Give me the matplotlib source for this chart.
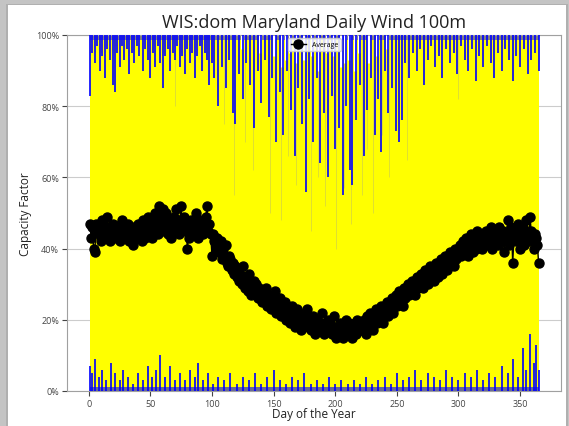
import numpy as np
import matplotlib
matplotlib.use("Agg")
import matplotlib.pyplot as plt
from matplotlib.patches import Rectangle
from matplotlib.ticker import PercentFormatter

plt.rcParams['font.family'] = ['Open Sans', 'DejaVu Sans']

# daily average capacity factor (%), day 1..365
avg_cf = [
    47, 43, 46, 40, 39, 47, 45, 44, 46, 42, 48, 45, 44, 43, 49, 46, 42, 45, 44, 47,
    45, 43, 46, 44, 42, 47, 48, 45, 44, 43, 46, 47, 42, 45, 44, 41, 46, 43, 45, 47,
    44, 46, 42, 48, 45, 43, 47, 49, 44, 46, 43, 45, 48, 50, 47, 44, 52, 46, 49, 51,
    45, 47, 50, 44, 46, 48, 43, 47, 49, 45, 51, 47, 44, 48, 52, 46, 49, 45, 47, 40,
    43, 46, 48, 45, 44, 47, 50, 46, 43, 48, 45, 47, 44, 46, 49, 52, 45, 47, 44, 38,
    44, 42, 40, 43, 41, 39, 42, 37, 40, 38, 41, 36, 35, 38, 37, 34, 36, 33, 35, 32,
    34, 31, 33, 30, 35, 32, 29, 31, 28, 33, 30, 27, 29, 31, 28, 30, 26, 29, 27, 28,
    25, 28, 26, 29, 24, 27, 25, 23, 26, 24, 28, 22, 25, 23, 26, 21, 24, 22, 25, 20,
    23, 21, 19, 22, 24, 20, 18, 21, 23, 19, 22, 17, 20, 18, 21, 19, 23, 18, 20, 17,
    19, 21, 18, 16, 20, 17, 19, 18, 22, 17, 16, 19, 18, 20, 17, 19, 16, 18, 21, 17,
    15, 18, 16, 19, 17, 15, 18, 16, 20, 17, 19, 16, 18, 15, 17, 19, 16, 20, 18, 17,
    19, 17, 20, 18, 16, 21, 19, 22, 18, 20, 17, 21, 23, 19, 22, 20, 24, 21, 19, 23,
    22, 25, 21, 24, 23, 26, 22, 25, 27, 24, 26, 28, 25, 27, 24, 29, 26, 28, 30, 27,
    29, 31, 28, 30, 27, 32, 29, 31, 30, 33, 29, 32, 34, 31, 30, 33, 35, 32, 34, 31,
    33, 36, 32, 35, 34, 37, 33, 36, 38, 35, 34, 37, 39, 36, 38, 35, 40, 37, 39, 38,
    41, 38, 40, 42, 39, 43, 40, 38, 42, 44, 41, 39, 43, 40, 45, 42, 41, 44, 40, 43,
    42, 45, 41, 44, 43, 46, 40, 43, 45, 42, 44, 41, 46, 43, 42, 45, 39, 44, 43, 48,
    41, 44, 46, 36, 43, 45, 42, 47, 44, 40, 43, 46, 41, 45, 48, 44, 42, 49, 45, 43,
    40, 44, 43, 41, 36,
]
days = np.arange(1, len(avg_cf) + 1)

# range of all years: min and max daily capacity factor (%)
cf_floor = 0
cf_ceiling = 100
# thin band where only the windiest / calmest years sit (%)
top_fringe = 98.5
bottom_fringe = 1.2

# days where the highest years stay below 100% (blue spikes from the top)
top_spike_day = [1, 3, 5, 7, 9, 11, 13, 15, 17, 20, 21, 23, 25, 27, 29, 31, 33, 35, 37, 39,
                 41, 44, 46, 48, 50, 52, 54, 56, 58, 60, 62, 64, 66, 68, 70, 72, 74, 76, 78, 80,
                 82, 84, 86, 88, 90, 92, 94, 96, 98, 100,
                 102, 105, 108, 111, 114, 117, 119, 122, 125, 128, 131, 134, 137, 140, 143, 146,
                 149, 152, 155, 158, 161, 164, 167, 170, 173, 176, 179, 182, 185, 188, 191, 194,
                 197, 200, 203, 206, 209, 212, 214, 217, 220, 223, 226, 229, 232, 235, 237, 240,
                 243, 246, 249, 252, 254,
                 257, 260, 263, 266, 269, 272, 275, 278, 281, 284, 287, 290, 293, 296, 299, 302,
                 305, 308, 311, 314, 317, 320, 323, 326, 329, 332, 335, 338, 341, 344, 347, 350,
                 353, 356, 359, 362, 365]
top_spike_cf = [83, 95, 92, 97, 90, 94, 88, 96, 93, 86, 84, 95, 91, 97, 93, 96, 89, 95, 92, 97,
                94, 90, 96, 93, 88, 95, 91, 97, 92, 85, 94, 96, 90, 95, 93, 97, 91, 94, 89, 96,
                92, 95, 88, 94, 97, 90, 95, 93, 86, 92,
                88, 80, 91, 85, 93, 78, 75, 89, 82, 92, 86, 74, 90, 81, 93, 77,
                88, 70, 84, 72, 90, 79, 66, 85, 75, 56, 82, 70, 88, 64, 78, 60,
                83, 68, 74, 55, 80, 62, 58, 76, 86, 66, 79, 88, 72, 82, 67, 90,
                78, 85, 73, 70, 76,
                92, 88, 95, 90, 96, 86, 93, 97, 91, 94, 88, 96, 92, 95, 89, 97,
                93, 90, 96, 87, 94, 91, 97, 92, 88, 95, 90, 96, 93, 87, 94, 91,
                96, 89, 93, 95, 90]

# summer days where no year reaches the top (white gaps)
gap_day = [124, 139, 150, 157, 160, 163, 168, 175, 181, 186, 193, 198, 205, 208, 211, 216,
           219, 227, 234, 242]
gap_cf = [96, 95, 94, 91, 93, 95, 92, 93, 94, 90, 95, 94, 91, 92, 93, 90, 95, 92, 94, 96]

# days where the lowest years rise above 0% (blue spikes from the bottom)
bottom_spike_day = [1, 3, 5, 8, 11, 14, 18, 21, 25, 28, 32, 36, 40, 44, 48, 51, 55, 58, 62, 66,
                    70, 74, 78, 82, 86, 89, 93, 97, 101, 105, 110, 115, 120, 125, 130, 135, 140,
                    145, 150, 155, 160, 165, 170, 175, 180, 185, 190, 195, 200, 205, 210, 215,
                    220, 225, 230, 235, 240, 245, 250, 255, 260, 265, 270, 275, 280, 285, 290,
                    295, 300, 305, 310, 315, 320, 325, 330, 335, 340, 344, 348, 352, 355, 358,
                    361, 363, 365]
bottom_spike_cf = [7, 5, 9, 4, 6, 3, 8, 5, 3, 6, 4, 2, 5, 3, 7, 4, 6, 10, 4, 7,
                   3, 5, 3, 6, 4, 8, 3, 5, 2, 4, 3, 5, 2, 4, 3, 5, 2,
                   4, 6, 3, 2, 4, 3, 5, 2, 3, 2, 4, 2, 3, 2, 3,
                   2, 4, 2, 3, 4, 2, 5, 3, 4, 6, 3, 5, 4, 3, 6,
                   4, 3, 5, 4, 6, 3, 5, 4, 7, 5, 9, 4, 12, 6, 16,
                   8, 13, 6]

# faint streaks inside the yellow band
streak_day = [118, 133, 147, 156, 168, 180, 192, 201, 213, 222, 231, 244, 258, 70, 110, 300,
              127, 162, 186, 207, 226, 238]
streak_cf = [55, 62, 50, 48, 58, 45, 52, 40, 47, 55, 50, 60, 65, 80, 75, 82,
             70, 66, 60, 57, 68, 72]

fig = plt.figure(figsize=(5.69, 4.27), dpi=100, facecolor='#c4c4c4')
fig.patches.append(Rectangle((6 / 569, -0.02), 562 / 569, 1.02 - 5 / 427,
                             transform=fig.transFigure, facecolor='#b0b0b0',
                             edgecolor='none', zorder=-2))
fig.patches.append(Rectangle((8 / 569, -0.02), 558 / 569, 1.02 - 6 / 427,
                             transform=fig.transFigure, facecolor='white',
                             edgecolor='none', zorder=-1))

ax = fig.add_axes([0.1186, 0.082, 0.8674, 0.8337])

ax.fill_between(days, cf_floor, cf_ceiling, color='yellow', lw=0, zorder=1)
ax.fill_between(days, top_fringe, cf_ceiling, color='blue', lw=0, alpha=0.5, zorder=1.5)
ax.fill_between(days, cf_floor, bottom_fringe, color='blue', lw=0, alpha=0.6, zorder=1.5)
ax.vlines(streak_day, streak_cf, cf_ceiling, color='#999999', lw=0.5, alpha=0.45, zorder=2)
ax.vlines(gap_day, gap_cf, cf_ceiling, color='white', lw=2.2, zorder=2)
ax.vlines(top_spike_day, top_spike_cf, cf_ceiling, color='blue', lw=1.2, zorder=3)
ax.vlines(bottom_spike_day, cf_floor, bottom_spike_cf, color='blue', lw=1.2, zorder=3)

ax.plot(days, avg_cf, color='black', marker='o', markersize=6.5, lw=1.0,
        label='Average', zorder=5)

ax.set_ylim(0, 100)
ax.margins(x=0.05)
ax.yaxis.set_major_formatter(PercentFormatter(100, decimals=0))
ax.set_yticks([0, 20, 40, 60, 80, 100])
ax.set_xticks([0, 50, 100, 150, 200, 250, 300, 350])
ax.grid(axis='y', color='#cccccc', lw=0.8, zorder=0)
ax.set_axisbelow(True)
for s in ax.spines.values():
    s.set_color('#a0a0a0')
ax.tick_params(labelsize=6.5, colors='#444444', length=3.5, pad=2.5)

ax.set_title('WIS:dom Maryland Daily Wind 100m', fontsize=13, pad=6, color='#222222')
ax.set_xlabel('Day of the Year', fontsize=8.5, labelpad=-1, color='#222222')
ax.set_ylabel('Capacity Factor', fontsize=8.5, labelpad=3, color='#222222')

leg = ax.legend(loc='upper center', fontsize=5, framealpha=0.85, borderpad=0.4,
                handlelength=2.2, bbox_to_anchor=(0.5, 1.0))
leg.get_frame().set_edgecolor('#cccccc')
leg.set_zorder(10)

fig.savefig('out.png', dpi=100, facecolor=fig.get_facecolor())
